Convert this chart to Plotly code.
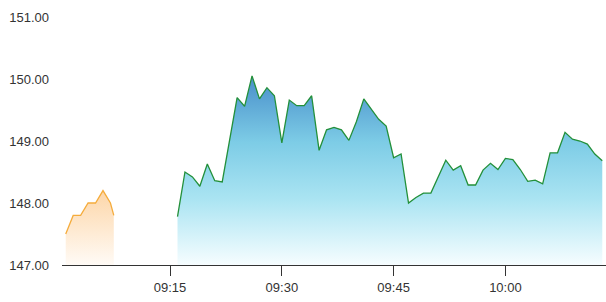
import plotly.graph_objects as go
import pandas as pd

# Pre-market (orange) series
pre_times = ["09:01:00", "09:02:00", "09:03:00", "09:04:00", "09:05:00",
             "09:06:00", "09:07:00", "09:07:27"]
pre_values = [147.50, 147.80, 147.80, 148.00, 148.00, 148.20, 148.00, 147.80]

# Main session (green/blue) series, one point per minute from 09:16
main_start = "09:16"
main_values = [
    147.78, 148.50, 148.42, 148.27, 148.63, 148.36, 148.34, 149.02,
    149.70, 149.56, 150.05, 149.68, 149.86, 149.73, 148.97, 149.66,
    149.57, 149.57, 149.73, 148.85, 149.18, 149.22, 149.18, 149.01,
    149.31, 149.68, 149.51, 149.35, 149.24, 148.73, 148.79, 148.00,
    148.09, 148.16, 148.16, 148.42, 148.69, 148.53, 148.60, 148.29,
    148.29, 148.53, 148.64, 148.54, 148.72, 148.70, 148.54, 148.35,
    148.37, 148.31, 148.81, 148.81, 149.14, 149.03, 149.00, 148.95,
    148.79, 148.68,
]

y_ticks = [147, 148, 149, 150, 151]
x_tick_labels = ["09:15", "09:30", "09:45", "10:00"]

day = "2024-01-02 "
pre_x = pd.to_datetime([day + t for t in pre_times])
main_x = pd.date_range(day + main_start, periods=len(main_values), freq="1min")
x_tickvals = pd.to_datetime([day + t for t in x_tick_labels])

fig = go.Figure()

fig.add_trace(go.Scatter(
    x=pre_x, y=pre_values, mode="lines",
    line=dict(color="#f5ac3c", width=1.3),
    fill="tozeroy",
    fillgradient=dict(type="vertical", start=147, stop=148.2,
                      colorscale=[[0, "rgb(255,251,246)"], [1, "rgb(253,214,168)"]]),
    hoverinfo="skip", showlegend=False,
))

fig.add_trace(go.Scatter(
    x=main_x, y=main_values, mode="lines",
    line=dict(color="#23903a", width=1.3),
    fill="tozeroy",
    fillgradient=dict(type="vertical", start=147, stop=150.05,
                      colorscale=[[0, "rgb(246,253,255)"],
                                  [0.35, "rgb(170,228,242)"],
                                  [0.65, "rgb(125,204,230)"],
                                  [1, "rgb(72,142,202)"]]),
    hoverinfo="skip", showlegend=False,
))

fig.update_layout(
    width=606, height=302,
    margin=dict(l=62, r=0, t=17, b=37),
    paper_bgcolor="white", plot_bgcolor="white",
    font=dict(family="Liberation Sans, Arial, sans-serif", size=13, color="#333333"),
    xaxis=dict(
        range=[pd.Timestamp(day + "09:00:30"), pd.Timestamp(day + "10:13:30")],
        tickvals=x_tickvals, ticktext=x_tick_labels,
        showgrid=False, zeroline=False,
        showline=True, linecolor="#333333", linewidth=1,
        ticks="outside", ticklen=10, tickcolor="#333333", tickwidth=1,
    ),
    yaxis=dict(
        range=[147, 151],
        tickvals=y_ticks, ticktext=[f"{v:.2f}" for v in y_ticks],
        showgrid=False, zeroline=False, showline=False,
        ticklabelstandoff=12,
    ),
)

fig.write_html("out.html")
